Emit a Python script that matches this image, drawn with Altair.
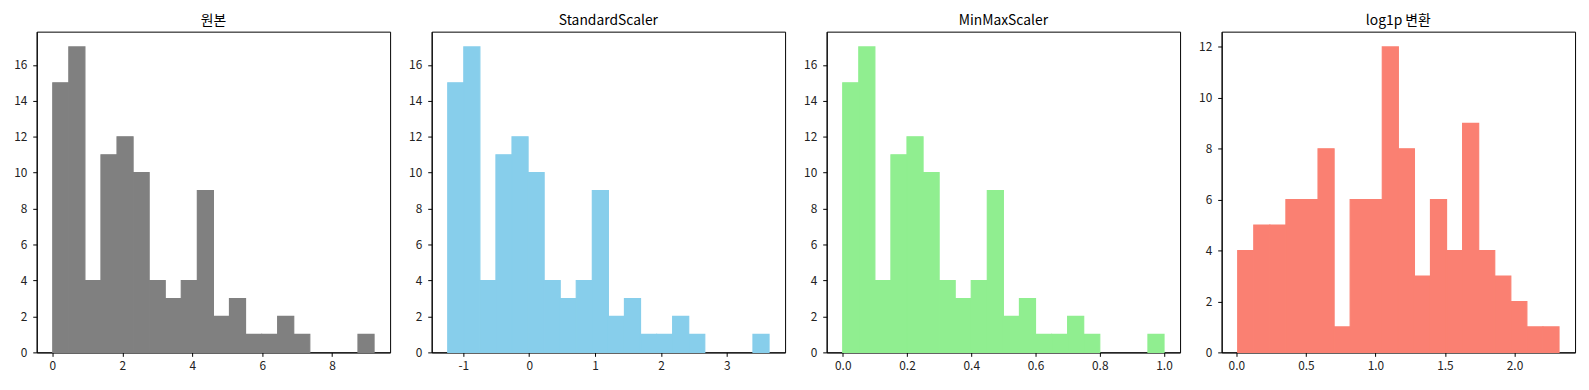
import altair as alt
import numpy as np
import pandas as pd

# histogram counts (20 bins each)
orig_counts = [15, 17, 4, 11, 12, 10, 4, 3, 4, 9, 2, 3, 1, 1, 2, 1, 0, 0, 0, 1]
std_counts = [15, 17, 4, 11, 12, 10, 4, 3, 4, 9, 2, 3, 1, 1, 2, 1, 0, 0, 0, 1]
minmax_counts = [15, 17, 4, 11, 12, 10, 4, 3, 4, 9, 2, 3, 1, 1, 2, 1, 0, 0, 0, 1]
log_counts = [4, 5, 5, 6, 6, 8, 1, 6, 6, 12, 8, 3, 6, 4, 9, 4, 3, 2, 1, 1]

# data range (min, max) of each series
orig_range = [0.01, 9.2]
std_range = [-1.236, 3.64]
minmax_range = [0.0, 1.0]
log_range = [0.01, 2.32]

titles = ["원본", "StandardScaler", "MinMaxScaler", "log1p 변환"]
colors = ["#808080", "#87CEEB", "#90EE90", "#FA8072"]
x_ticks = [[0, 2, 4, 6, 8], [-1, 0, 1, 2, 3], [0.0, 0.2, 0.4, 0.6, 0.8, 1.0], [0.0, 0.5, 1.0, 1.5, 2.0]]
x_formats = ["d", "d", ".1f", ".1f"]
y_ticks = [[0, 2, 4, 6, 8, 10, 12, 14, 16]] * 3 + [[0, 2, 4, 6, 8, 10, 12]]

FONT = "Noto Sans CJK KR"


def panel(counts, rng, title, color, xt, xf, yt):
    lo, hi = rng
    edges = np.linspace(lo, hi, len(counts) + 1)
    df = pd.DataFrame({"start": edges[:-1], "end": edges[1:], "count": counts})
    df = df[df["count"] > 0]
    m = (hi - lo) * 0.05
    ymax = max(counts) * 1.05
    return (
        alt.Chart(df, title=alt.TitleParams(title, fontSize=14, font=FONT, fontWeight="normal", offset=4, color="black"))
        .mark_rect(color=color, stroke=color, strokeWidth=1.2, strokeOpacity=1, opacity=1)
        .encode(
            x=alt.X("start:Q", scale=alt.Scale(domain=[lo - m, hi + m], nice=False, zero=False),
                    axis=alt.Axis(values=xt, format=xf, title=None, labelPadding=4,
                                  labelExpr="replace(datum.label, '\u2212', '-')")),
            x2="end:Q",
            y=alt.Y("count:Q", scale=alt.Scale(domain=[0, ymax], nice=False),
                    axis=alt.Axis(values=yt, title=None, minExtent=22, maxExtent=22, labelPadding=6)),
            y2=alt.datum(0),
        )
        .properties(width=357, height=324)
    )


charts = [
    panel(c, r, t, col, xt, xf, yt)
    for c, r, t, col, xt, xf, yt in zip(
        [orig_counts, std_counts, minmax_counts, log_counts],
        [orig_range, std_range, minmax_range, log_range],
        titles, colors, x_ticks, x_formats, y_ticks,
    )
]

chart = (
    alt.hconcat(*charts, spacing=17)
    .properties(padding={"left": 5, "top": 3, "right": 5, "bottom": 5})
    .configure_view(stroke="black", strokeWidth=1)
    .configure_axis(
        grid=False, domainColor="black", tickColor="black", tickSize=4,
        labelFontSize=12, labelColor="#222222", labelFont=FONT,
    )
)

chart.save("out.html", embed_options={"renderer": "svg", "actions": False})
